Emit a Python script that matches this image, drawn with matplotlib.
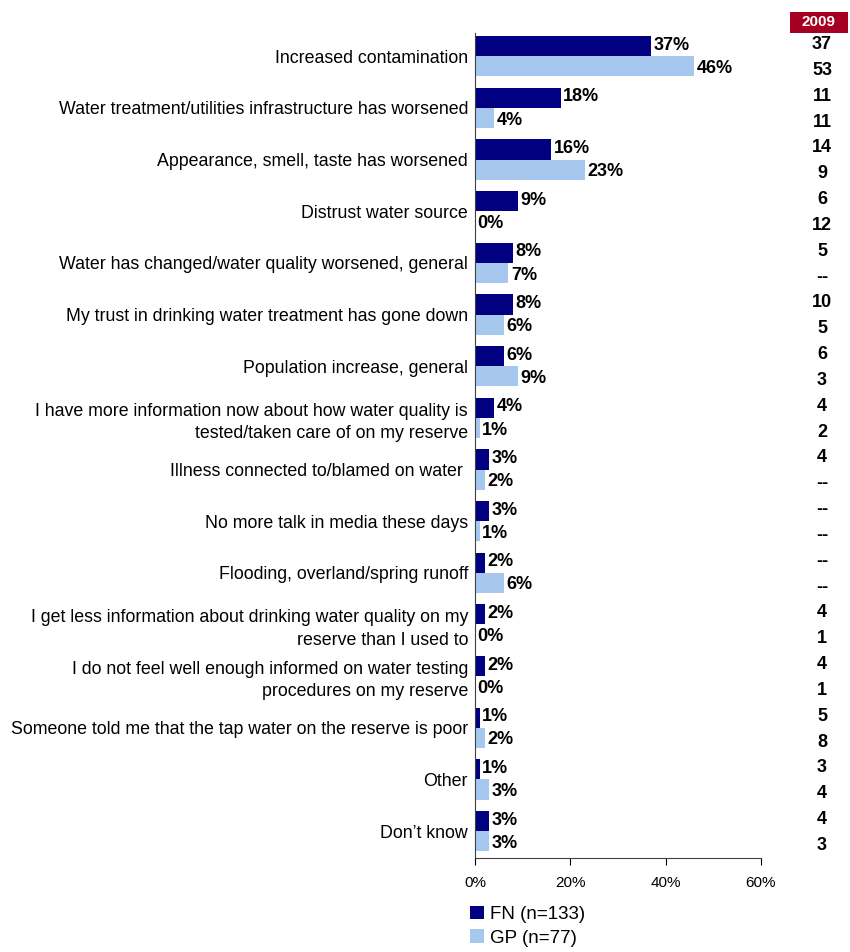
import numpy as np
import matplotlib.pyplot as plt
import matplotlib.transforms as mtransforms
from matplotlib.patches import Rectangle

plt.rcParams['font.family'] = ['Liberation Sans', 'DejaVu Sans']

reasons = [
    "Increased contamination",
    "Water treatment/utilities infrastructure has worsened",
    "Appearance, smell, taste has worsened",
    "Distrust water source",
    "Water has changed/water quality worsened, general",
    "My trust in drinking water treatment has gone down",
    "Population increase, general",
    "I have more information now about how water quality is\ntested/taken care of on my reserve",
    "Illness connected to/blamed on water ",
    "No more talk in media these days",
    "Flooding, overland/spring runoff",
    "I get less information about drinking water quality on my\nreserve than I used to",
    "I do not feel well enough informed on water testing\nprocedures on my reserve",
    "Someone told me that the tap water on the reserve is poor",
    "Other",
    "Don\u2019t know",
]
fn_pct = [37, 18, 16, 9, 8, 8, 6, 4, 3, 3, 2, 2, 2, 1, 1, 3]
gp_pct = [46, 4, 23, 0, 7, 6, 9, 1, 2, 1, 6, 0, 0, 2, 3, 3]
fn_2009 = ["37", "11", "14", "6", "5", "10", "6", "4", "4", "--", "--", "4", "4", "5", "3", "4"]
gp_2009 = ["53", "11", "9", "12", "--", "5", "3", "2", "--", "--", "--", "1", "1", "8", "4", "3"]

navy = "#000080"
light = "#A6C8EE"

fig = plt.figure(figsize=(8.5, 9.52), dpi=100)
ax = fig.add_axes([475 / 850, 1 - 858 / 952, 286 / 850, 825 / 952])

y = np.arange(len(reasons))
h = 0.39
ax.barh(y - h / 2, fn_pct, height=h, color=navy, label="FN (n=133)")
ax.barh(y + h / 2, gp_pct, height=h, color=light, label="GP (n=77)")

for yi, v in zip(y, fn_pct):
    ax.text(v + 0.5, yi - h / 2 - 0.02, f"{v}%", va="center", ha="left",
            fontsize=13, fontweight="bold")
for yi, v in zip(y, gp_pct):
    ax.text(v + 0.5, yi + h / 2 + 0.04, f"{v}%", va="center", ha="left",
            fontsize=13, fontweight="bold")

ax.set_xlim(0, 60)
ax.set_ylim(15.52, -0.45)
ax.set_xticks([0, 20, 40, 60])
ax.set_xticklabels(["0%", "20%", "40%", "60%"], fontsize=11)
ax.set_yticks(y)
ax.set_yticklabels(reasons, fontsize=12.8, linespacing=1.4)
ax.tick_params(axis="y", length=0, pad=5)
ax.tick_params(axis="x", length=5, direction="out", pad=8)
for s in ("top", "right"):
    ax.spines[s].set_visible(False)
ax.spines["left"].set_color("#404040")
ax.spines["bottom"].set_color("#404040")

# 2009 comparison column
trans = mtransforms.blended_transform_factory(fig.transFigure, ax.transData)
col_x = 822 / 850
for yi, a, b in zip(y, fn_2009, gp_2009):
    ax.text(col_x, yi - h / 2 - 0.03, a, transform=trans, ha="center", va="center",
            fontsize=13, fontweight="bold", clip_on=False)
    ax.text(col_x, yi + h / 2 + 0.08, b, transform=trans, ha="center", va="center",
            fontsize=13, fontweight="bold", clip_on=False)
fig.patches.append(Rectangle((790 / 850, 1 - 33 / 952), 58 / 850, 21 / 952,
                             transform=fig.transFigure, fc="#A50021", ec="none"))
fig.text(819 / 850, 1 - 22.5 / 952, "2009", ha="center", va="center", color="white",
         fontsize=11, fontweight="bold")

fig.legend(loc="upper left", bbox_to_anchor=(462 / 850, 1 - 898 / 952),
           frameon=False, fontsize=13.5, handlelength=0.75, handleheight=0.75,
           handletextpad=0.35, labelspacing=0.35, borderaxespad=0)

fig.savefig("out.png", dpi=100)
